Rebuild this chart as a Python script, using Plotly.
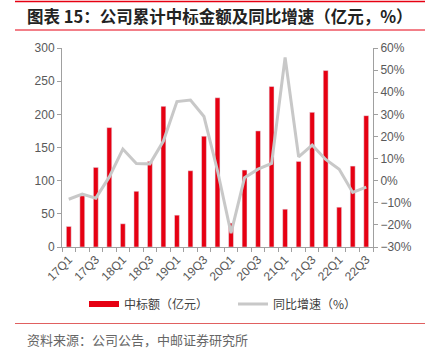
import plotly.graph_objects as go

quarters = ["17Q1", "17Q2", "17Q3", "17Q4", "18Q1", "18Q2", "18Q3", "18Q4",
            "19Q1", "19Q2", "19Q3", "19Q4", "20Q1", "20Q2", "20Q3", "20Q4",
            "21Q1", "21Q2", "21Q3", "21Q4", "22Q1", "22Q2", "22Q3"]
amount = [31, 77, 120, 180, 35, 84, 129, 212, 48, 115, 167, 225, 36, 116, 175,
          242, 57, 129, 203, 266, 60, 122, 198]
growth = [-8.4, -6.1, -7.9, 1.7, 14.3, 7.8, 7.6, 17.9, 35.8, 36.5, 29.0, 4.5,
          -23.7, 1.3, 5.2, 7.8, 55.7, 10.8, 16.1, 9.6, 5.2, -5.3, -2.9]
tick_text = [q if i % 2 == 0 else "" for i, q in enumerate(quarters)]

W, H = 425, 353
L, R, T, B = 62, 52, 48, 106
PW, PH = W - L - R, H - T - B

def px(x):
    return (x - L) / PW

def py(y):
    return (H - B - y) / PH

RED = "#E60012"
GREY = "#C8C8C8"
AX = "#A0A0A0"
TXT = "#595959"
CJK = "Noto Sans CJK SC"
LAT = "Liberation Sans"

fig = go.Figure()
fig.add_trace(go.Bar(x=quarters, y=amount, marker_color=RED, showlegend=False,
                     name="中标额（亿元）"))
fig.add_trace(go.Scatter(x=quarters, y=growth, yaxis="y2", mode="lines",
                         line=dict(color=GREY, width=3), showlegend=False,
                         name="同比增速（%）"))
# legend proxies
fig.add_trace(go.Scatter(x=[None], y=[None], mode="lines",
                         line=dict(color=RED, width=6), name="中标额（亿元）"))
fig.add_trace(go.Scatter(x=[None], y=[None], mode="lines",
                         line=dict(color=GREY, width=3), name="同比增速（%）"))

fig.update_layout(
    width=W, height=H,
    margin=dict(l=L, r=R, t=T, b=B, pad=0),
    paper_bgcolor="white", plot_bgcolor="white",
    bargap=0.64,
    font=dict(family=LAT, size=12, color=TXT),
    xaxis=dict(type="category", tickmode="array", tickvals=quarters,
               ticktext=tick_text, tickangle=-45, tickson="boundaries",
               ticks="outside", ticklen=4, tickcolor=AX, showline=True,
               linecolor=AX, linewidth=1, showgrid=False,
               tickfont=dict(family=LAT, size=12, color=TXT)),
    yaxis=dict(range=[0, 300], dtick=50, showgrid=False, zeroline=False,
               showline=True, linecolor=AX, ticks="outside", ticklen=4,
               tickcolor=AX, tickfont=dict(family=LAT, size=12, color=TXT)),
    yaxis2=dict(range=[-30, 60], dtick=10, overlaying="y", side="right",
                ticksuffix="%", showgrid=False, zeroline=False, showline=True,
                linecolor=AX, ticks="outside", ticklen=4, tickcolor=AX,
                tickfont=dict(family=LAT, size=12, color=TXT)),
    legend=dict(orientation="h", x=px(84), xanchor="left", y=py(304),
                yanchor="middle", font=dict(family=CJK, size=12, color="#404040"),
                itemwidth=30, entrywidth=104, bgcolor="rgba(0,0,0,0)"),
    showlegend=True,
)

shapes = [
    dict(type="line", xref="paper", yref="paper", x0=px(15), x1=px(425),
         y0=py(1.5), y1=py(1.5), line=dict(color=RED, width=1.5)),
    dict(type="line", xref="paper", yref="paper", x0=px(15), x1=px(425),
         y0=py(30), y1=py(30), line=dict(color=RED, width=1)),
    dict(type="line", xref="paper", yref="paper", x0=px(15), x1=px(425),
         y0=py(323.5), y1=py(323.5), line=dict(color="#E06060", width=1)),
]
fig.update_layout(shapes=shapes)

fig.add_annotation(text="<b>图表 15：公司累计中标金额及同比增速（亿元，%）</b>",
                   xref="paper", yref="paper", x=px(25), y=py(16),
                   xanchor="left", yanchor="middle", showarrow=False,
                   font=dict(family=CJK, size=16.5, color="#222222"))
fig.add_annotation(text="资料来源：公司公告，中邮证券研究所",
                   xref="paper", yref="paper", x=px(25), y=py(339),
                   xanchor="left", yanchor="middle", showarrow=False,
                   font=dict(family=CJK, size=13, color="#666666"))

fig.write_html("out.html")
